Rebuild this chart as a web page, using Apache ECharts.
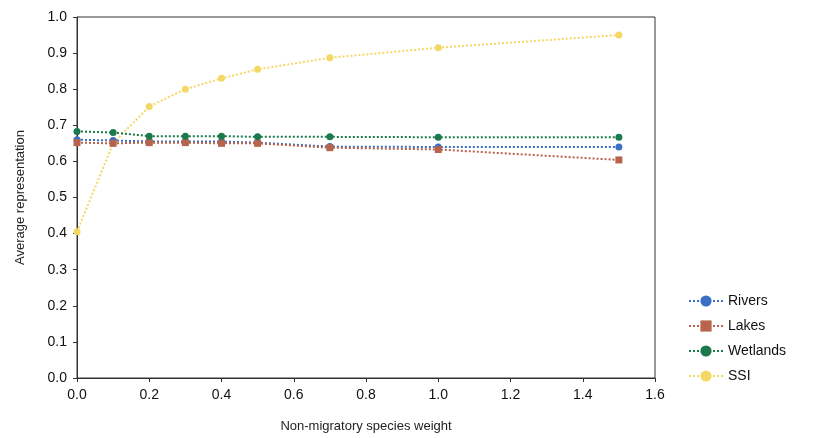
<!DOCTYPE html>
<html><head><meta charset="utf-8">
<script src="https://cdn.jsdelivr.net/npm/echarts@6/dist/echarts.min.js"></script>
<style>html,body{margin:0;padding:0;background:#fff}#c{width:813px;height:438px}</style>
</head><body><div id="c"></div>
<script>
const xValues = [0, 0.1, 0.2, 0.3, 0.4, 0.5, 0.7, 1.0, 1.5];
const rivers   = [0.660, 0.658, 0.655, 0.655, 0.655, 0.652, 0.641, 0.640, 0.640];
const lakes    = [0.652, 0.650, 0.652, 0.652, 0.650, 0.650, 0.638, 0.633, 0.604];
const wetlands = [0.683, 0.680, 0.670, 0.670, 0.670, 0.668, 0.668, 0.667, 0.667];
const ssi      = [0.405, 0.650, 0.752, 0.800, 0.830, 0.855, 0.887, 0.915, 0.950];
const seriesNames = ['Rivers', 'Lakes', 'Wetlands', 'SSI'];
const colors = ['#3b6fc6', '#b8644c', '#1a7a4c', '#f3d866'];
const symbols = ['circle', 'rect', 'circle', 'circle'];
const allData = [rivers, lakes, wetlands, ssi];

const chart = echarts.init(document.getElementById('c'));
const font = 'Liberation Sans, Arial, sans-serif';
chart.setOption({
  animation: false,
  grid: { left: 77, right: 158, top: 17, bottom: 58, show: true, borderColor: '#333', borderWidth: 1 },
  legend: {
    orient: 'vertical', left: 683, top: 289, itemGap: 11, itemWidth: 34, itemHeight: 14,
    textStyle: { fontFamily: font, fontSize: 14, color: '#111' },
    data: seriesNames
  },
  xAxis: {
    type: 'value', min: 0, max: 1.6, interval: 0.2,
    name: 'Non-migratory species weight', nameLocation: 'middle', nameGap: 42,
    nameTextStyle: { fontFamily: font, fontSize: 13, color: '#222' },
    axisLine: { lineStyle: { color: '#333' } },
    axisTick: { show: true, inside: false, length: 4, lineStyle: { color: '#333' } },
    axisLabel: { fontFamily: font, fontSize: 14, color: '#111', formatter: v => v.toFixed(1), margin: 10 },
    splitLine: { show: false }
  },
  yAxis: {
    type: 'value', min: 0, max: 1.0, interval: 0.1,
    name: 'Average representation', nameLocation: 'middle', nameGap: 50,
    nameTextStyle: { fontFamily: font, fontSize: 13, color: '#222' },
    axisLine: { show: true, lineStyle: { color: '#333' } },
    axisTick: { show: true, length: 4, lineStyle: { color: '#333' } },
    axisLabel: { fontFamily: font, fontSize: 14, color: '#111', formatter: v => v.toFixed(1), margin: 10 },
    splitLine: { show: false }
  },
  series: seriesNames.map((n, i) => ({
    name: n, type: 'line',
    data: xValues.map((x, j) => [x, allData[i][j]]),
    symbol: symbols[i], symbolSize: 7,
    itemStyle: { color: colors[i] },
    lineStyle: { color: colors[i], type: 'dotted', width: 2 },
    z: i === 3 ? 1 : 2 + i
  }))
});
</script></body></html>
